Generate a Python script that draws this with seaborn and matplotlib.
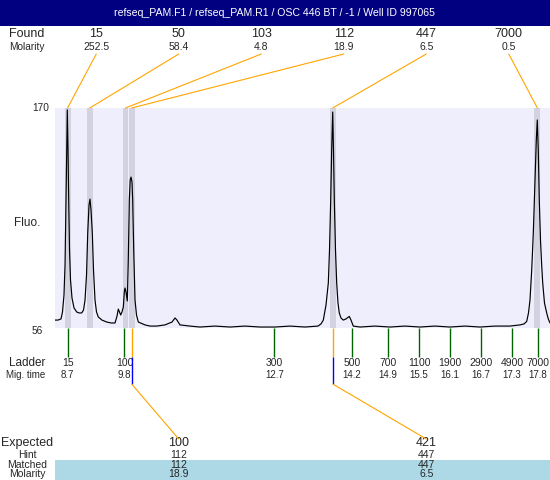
import numpy as np
import pandas as pd
import matplotlib
matplotlib.use("Agg")
import matplotlib.pyplot as plt
import seaborn as sns
from matplotlib import transforms
from matplotlib.patches import Rectangle, ConnectionPatch

sns.set_style("white")
plt.rcParams['font.family'] = ['Liberation Sans', 'DejaVu Sans']

# ---------------- data ----------------
title = "refseq_PAM.F1 / refseq_PAM.R1 / OSC 446 BT / -1 / Well ID 997065"

trace_time = [8.457, 8.515, 8.573, 8.602, 8.631, 8.651, 8.670, 8.684, 8.695, 8.709,
              8.722, 8.738, 8.757, 8.786, 8.825, 8.877, 8.922, 8.974, 9.009, 9.038,
              9.067, 9.090, 9.115, 9.134, 9.154, 9.179, 9.202, 9.231, 9.260, 9.295,
              9.366, 9.457, 9.541, 9.618, 9.657, 9.682, 9.705, 9.728, 9.753, 9.779,
              9.798, 9.811, 9.831, 9.856, 9.875, 9.895, 9.912, 9.928, 9.947, 9.960,
              9.980, 10.005, 10.034, 10.069, 10.198, 10.295, 10.425, 10.585, 10.721, 10.779,
              10.817, 10.875, 11.069, 11.262, 11.553, 11.843, 12.133, 12.423, 12.713, 13.003,
              13.294, 13.545, 13.603, 13.648, 13.700, 13.745, 13.768, 13.791, 13.810, 13.830,
              13.845, 13.861, 13.884, 13.907, 13.932, 13.957, 13.990, 14.035, 14.087, 14.151,
              14.184, 14.228, 14.358, 14.648, 14.938, 15.228, 15.518, 15.809, 16.099, 16.389,
              16.679, 16.970, 17.260, 17.453, 17.531, 17.583, 17.618, 17.647, 17.680, 17.711,
              17.744, 17.769, 17.788, 17.807, 17.827, 17.850, 17.873, 17.893, 17.927, 17.970,
              18.001, 18.034]
trace_fluo = [60.1, 60.1, 60.7, 64.3, 73.1, 88.6, 122.3, 148.2, 169.0, 148.2,
              122.3, 96.4, 80.9, 71.5, 66.4, 64.3, 63.8, 63.8, 65.3, 70.5,
              83.5, 105.2, 119.7, 122.8, 117.1, 105.2, 86.0, 70.5, 64.3, 61.7,
              60.1, 59.1, 58.6, 58.6, 62.2, 65.8, 64.3, 62.7, 64.3, 66.9,
              74.7, 76.7, 74.7, 70.0, 91.2, 122.3, 132.7, 134.2, 131.6, 122.3,
              96.4, 70.5, 62.7, 59.1, 57.6, 57.0, 57.0, 57.6, 59.1, 61.2,
              60.1, 57.6, 57.0, 56.5, 57.0, 56.5, 57.0, 56.5, 56.5, 57.0,
              56.5, 57.0, 58.1, 60.1, 67.9, 79.3, 96.4, 122.3, 148.2, 167.9,
              148.2, 122.3, 96.4, 79.3, 69.0, 63.8, 61.2, 60.1, 60.7, 62.0,
              60.1, 57.0, 56.5, 57.0, 56.5, 57.0, 56.5, 57.0, 56.5, 57.0,
              56.5, 57.0, 57.0, 57.6, 58.1, 59.4, 63.8, 70.5, 86.0, 105.2,
              132.7, 153.4, 163.8, 148.2, 122.3, 101.6, 88.6, 79.3, 69.0, 63.8,
              60.7, 58.6]

found_size = [15, 50, 103, 112, 447, 7000]
found_molarity = [252.5, 58.4, 4.8, 18.9, 6.5, 0.5]
found_time = [8.70, 9.13, 9.82, 9.94, 13.83, 17.79]

ladder_size = [15, 100, 300, 500, 700, 1100, 1900, 2900, 4900, 7000]
ladder_time = [8.7, 9.8, 12.7, 14.2, 14.9, 15.5, 16.1, 16.7, 17.3, 17.8]

expected_size = [100, 421]
hint_size = [112, 447]
matched_size = [112, 447]
matched_molarity = [18.9, 6.5]
matched_time = [9.94, 13.83]

y_range = [56, 170]
x_range = [8.457, 18.034]

# ---------------- layout (pixels) ----------------
W, H = 550, 480
PL, PR, PT, PB = 55, 550, 108, 328

fig = plt.figure(figsize=(W / 100, H / 100), dpi=100)
ov = fig.add_axes([0, 0, 1, 1])
ov.axis('off')
ax = fig.add_axes([PL / W, (H - PB) / H, (PR - PL) / W, (PB - PT) / H])
ax.set_facecolor('#EEEEFC')
for s in ax.spines.values():
    s.set_visible(False)

for t in found_time:
    ax.axvspan(t - 0.057, t + 0.057, color='#D2D2E0', lw=0, zorder=1)

df = pd.DataFrame({'time': trace_time, 'fluo': trace_fluo})
sns.lineplot(data=df, x='time', y='fluo', ax=ax, color='black', lw=0.85, zorder=3)
ax.set_xlim(*x_range)
ax.set_ylim(*y_range)
ax.set_xticks([])
ax.set_yticks([])
ax.set_xlabel('')
ax.set_ylabel('')

ov.set_xlim(0, W)
ov.set_ylim(H, 0)
ov.set_autoscale_on(False)

xb = transforms.blended_transform_factory(ax.transData, ov.transData)
yb = transforms.blended_transform_factory(ov.transData, ax.transData)
yb_low = yb + transforms.ScaledTranslation(0, -3 / 100, fig.dpi_scale_trans)

ORANGE = '#FFA500'
GREEN = '#006400'
BLUE = '#0000FF'

# header
ov.add_patch(Rectangle((0, 0), W, 26, color='#000080', lw=0, zorder=1))
ov.text(W / 2, 13.5, title, color='white', ha='center', va='center', fontsize=7.6, zorder=2)

# Found rows
ov.text(27, 34, 'Found', ha='center', va='center', fontsize=9)
ov.text(27, 47, 'Molarity', ha='center', va='center', fontsize=7.3)
n = len(found_size)
for i, (sz, mol, t) in enumerate(zip(found_size, found_molarity, found_time)):
    sx = PL + (i + 0.5) * (PR - PL) / n
    ov.text(sx, 34, str(sz), ha='center', va='center', fontsize=9)
    ov.text(sx, 47, f"{mol:.1f}", ha='center', va='center', fontsize=7.5)
    cp = ConnectionPatch(xyA=(sx, 54), coordsA=ov.transData,
                         xyB=(t, PT), coordsB=xb, color=ORANGE, lw=0.8)
    fig.add_artist(cp)

# y axis labels
ov.text(32, y_range[1], str(y_range[1]), transform=yb, ha='left', va='center', fontsize=7.3)
ov.text(32, y_range[0], str(y_range[0]), transform=yb_low, ha='left', va='center', fontsize=7.3)
ov.text(27, 223, 'Fluo.', ha='center', va='center', fontsize=8.5)

# Ladder
ov.text(27, 363, 'Ladder', ha='center', va='center', fontsize=8.5)
ov.text(26, 375, 'Mig. time', ha='center', va='center', fontsize=7)
ov.vlines(ladder_time, PB, 357, transform=xb, colors=GREEN, lw=1)
for sz, t in zip(ladder_size, ladder_time):
    ov.text(t, 363, str(sz), transform=xb, ha='center', va='center', fontsize=7.5)
    ov.text(t, 375, f"{t:.1f}", transform=xb, ha='center', va='center', fontsize=7)

# matched markers
ov.vlines(matched_time, PB, 357, transform=xb, colors=ORANGE, lw=1, zorder=3)
ov.vlines(matched_time, 357, 384, transform=xb, colors=BLUE, lw=1, zorder=3)

# Expected rows
ov.add_patch(Rectangle((PL, 460), PR - PL, 20, color='#ADD8E6', lw=0, zorder=0.5))
ov.text(27, 443, 'Expected', ha='center', va='center', fontsize=9)
ov.text(27, 455, 'Hint', ha='center', va='center', fontsize=7.5)
ov.text(27, 464.5, 'Matched', ha='center', va='center', fontsize=7.5)
ov.text(27, 474, 'Molarity', ha='center', va='center', fontsize=7.5)
m = len(expected_size)
for i, (e, h, mt, mol, t) in enumerate(zip(expected_size, hint_size, matched_size,
                                            matched_molarity, matched_time)):
    sx = PL + (i + 0.5) * (PR - PL) / m
    ov.text(sx, 443, str(e), ha='center', va='center', fontsize=9)
    ov.text(sx, 455, str(h), ha='center', va='center', fontsize=7.5)
    ov.text(sx, 464.5, str(mt), ha='center', va='center', fontsize=7.5)
    ov.text(sx, 474, f"{mol:.1f}", ha='center', va='center', fontsize=7.5)
    cp = ConnectionPatch(xyA=(t, 384), coordsA=xb,
                         xyB=(sx, 439), coordsB=ov.transData, color=ORANGE, lw=0.8)
    fig.add_artist(cp)

fig.savefig('out.png', dpi=100)
